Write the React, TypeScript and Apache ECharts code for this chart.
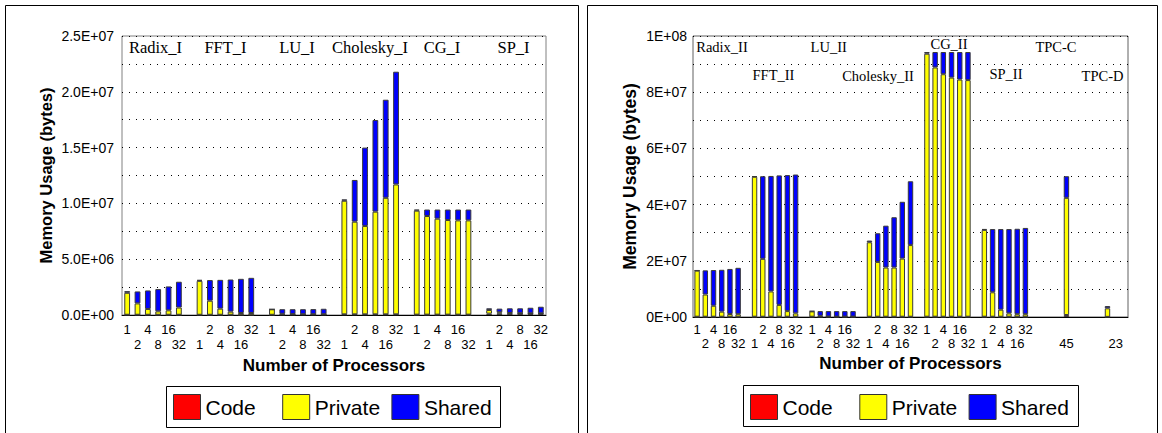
import React, { useEffect, useRef } from "react";
import * as echarts from "echarts";

// ---------- data (values in millions of bytes) ----------
const procs = ["1", "2", "4", "8", "16", "32"];

const leftGroups = ["Radix_I", "FFT_I", "LU_I", "Cholesky_I", "CG_I", "SP_I"];
const leftCode = [
  [0.02, 0.02, 0.02, 0.02, 0.02, 0.02],
  [0.02, 0.02, 0.02, 0.02, 0.02, 0.02],
  [0.02, 0.05, 0.05, 0.05, 0.05, 0.05],
  [0.06, 0.06, 0.06, 0.06, 0.06, 0.06],
  [0.03, 0.03, 0.03, 0.03, 0.03, 0.03],
  [0.12, 0.12, 0.12, 0.12, 0.12, 0.12],
];
const leftPrivate = [
  [1.97, 1.02, 0.52, 0.31, 0.4, 0.65],
  [3.04, 1.26, 0.55, 0.28, 0.16, 0.16],
  [0.49, 0.06, 0.03, 0.02, 0.02, 0.02],
  [10.18, 8.3, 7.92, 9.2, 10.44, 11.64],
  [9.32, 8.84, 8.6, 8.48, 8.45, 8.45],
  [0.33, 0.12, 0.06, 0.04, 0.03, 0.03],
];
const leftShared = [
  [0.15, 1.07, 1.66, 1.99, 2.14, 2.31],
  [0.09, 1.85, 2.58, 2.88, 3.06, 3.15],
  [0.0, 0.41, 0.44, 0.45, 0.46, 0.49],
  [0.12, 3.74, 7.02, 8.21, 8.79, 10.1],
  [0.1, 0.58, 0.82, 0.94, 0.97, 0.97],
  [0.15, 0.33, 0.42, 0.44, 0.5, 0.59],
];

const rightGroups = ["Radix_II", "FFT_II", "LU_II", "Cholesky_II", "CG_II", "SP_II"];
const rightCode = [
  [0.1, 0.1, 0.1, 0.1, 0.1, 0.1],
  [0.1, 0.1, 0.1, 0.1, 0.1, 0.1],
  [0.1, 0.1, 0.1, 0.1, 0.1, 0.1],
  [0.1, 0.1, 0.1, 0.1, 0.1, 0.1],
  [0.1, 0.1, 0.1, 0.1, 0.1, 0.1],
  [0.1, 0.1, 0.1, 0.1, 0.1, 0.1],
];
const rightPrivate = [
  [16.4, 7.9, 3.9, 1.8, 0.96, 0.9],
  [49.8, 20.6, 9.0, 4.2, 2.0, 1.2],
  [1.9, 0.3, 0.1, 0.05, 0.05, 0.05],
  [26.5, 19.5, 17.5, 17.5, 20.7, 25.5],
  [93.6, 88.7, 86.3, 85.1, 84.4, 84.2],
  [30.9, 8.7, 2.5, 1.2, 0.9, 0.9],
];
const rightShared = [
  [0.1, 8.6, 12.7, 14.9, 16.04, 16.5],
  [0.2, 29.4, 41.1, 46.1, 48.4, 49.4],
  [0.1, 1.7, 1.9, 1.95, 1.95, 1.95],
  [0.6, 10.2, 14.9, 17.9, 20.2, 22.7],
  [0.6, 5.5, 7.9, 9.1, 9.8, 10.0],
  [0.3, 22.5, 28.7, 30.0, 30.4, 30.7],
];

// trailing slots after SP_II: TPC-C and TPC-D
const tpcGroups = ["TPC-C", "TPC-D"];
const tailTickLabels = ["", "", "", "", "45", "", "", "", "", "", "23", ""];
const tailCode = [null, null, null, null, 0.7, null, null, null, null, 0.05, null, null];
const tailPrivate = [null, null, null, null, 41.7, null, null, null, null, 3.05, null, null];
const tailShared = [null, null, null, null, 7.7, null, null, null, null, 0.8, null, null];

const leftTicks = [0, 5e6, 1e7, 1.5e7, 2e7, 2.5e7];
const rightTicks = [0, 2e7, 4e7, 6e7, 8e7, 1e8];
const legendNames = ["Code", "Private", "Shared"];

// ---------- helpers ----------
function flatten(groups: number[][]): (number | null)[] {
  const out: (number | null)[] = [];
  groups.forEach((g, gi) => {
    if (gi > 0) out.push(null);
    g.forEach((v) => out.push(v * 1e6));
  });
  return out;
}
function flatLabels(n: number): string[] {
  const out: string[] = [];
  for (let gi = 0; gi < n; gi++) {
    if (gi > 0) out.push("");
    procs.forEach((p) => out.push(p));
  }
  return out;
}
function sci(v: number, digits: number): string {
  if (v === 0) return (0).toFixed(digits) + "E+00";
  const e = Math.floor(Math.log10(v) + 1e-9);
  const m = v / Math.pow(10, e);
  return m.toFixed(digits) + "E+" + (e < 10 ? "0" + e : String(e));
}

const leftLabels = flatLabels(leftGroups.length);
const rightLabels = flatLabels(rightGroups.length).concat(tailTickLabels);
const tailM = (a: (number | null)[]) => a.map((v) => (v == null ? null : v * 1e6));

const leftCodeData = flatten(leftCode);
const leftPrivData = flatten(leftPrivate);
const leftSharedData = flatten(leftShared);
const rightCodeData = flatten(rightCode).concat(tailM(tailCode));
const rightPrivData = flatten(rightPrivate).concat(tailM(tailPrivate));
const rightSharedData = flatten(rightShared).concat(tailM(tailShared));

const FONT = "'Liberation Sans', Arial, sans-serif";
const SERIF = "'Liberation Serif', 'Times New Roman', serif";
const colors: Record<string, string> = { Code: "#ff0000", Private: "#ffff00", Shared: "#0000ff" };

export default function App() {
  const ref = useRef<HTMLDivElement>(null);
  useEffect(() => {
    if (!ref.current) return;
    const chart = echarts.init(ref.current, undefined, { renderer: "svg" });

    const xAxisBase = (gi: number, labels: string[], margin: number, lh: number, gap: number) => ({
      type: "category",
      gridIndex: gi,
      data: labels.map((_, i) => String(i)),
      axisTick: { show: false },
      axisLine: { show: true, lineStyle: { color: "#000", width: 1 } },
      axisLabel: {
        interval: 0,
        margin,
        color: "#000",
        fontSize: 13,
        fontFamily: FONT,
        lineHeight: lh,
        formatter: (v: string) => {
          const i = Number(v);
          return i % 2 === 1 ? "\n" + labels[i] : labels[i];
        },
      },
      name: "Number of Processors",
      nameLocation: "middle",
      nameGap: gap,
      nameTextStyle: { fontSize: 17, fontWeight: "bold", fontFamily: FONT, color: "#000" },
    });
    const yAxisBase = (gi: number, max: number, interval: number, ticks: number[], digits: number, gap: number, nameSize: number, margin: number) => ({
      type: "value",
      gridIndex: gi,
      min: 0,
      max,
      interval,
      axisLine: { show: false },
      axisTick: { show: false },
      splitLine: { show: true, lineStyle: { color: "#000", type: [1, 6], width: 1 } },
      axisLabel: {
        margin,
        color: "#000",
        fontSize: 14,
        fontFamily: FONT,
        formatter: (v: number) => (ticks.some((t) => Math.abs(t - v) < 1) ? sci(v, digits) : ""),
      },
      name: "Memory Usage (bytes)",
      nameLocation: "middle",
      nameRotate: 90,
      nameGap: gap,
      nameTextStyle: { fontSize: nameSize, fontWeight: "bold", fontFamily: FONT, color: "#000" },
    });

    const mkSeries = (name: string, gi: number, data: (number | null)[], bw: string) => ({
      type: "bar",
      name,
      xAxisIndex: gi,
      yAxisIndex: gi,
      stack: "s" + gi,
      barWidth: bw,
      data,
      itemStyle: { color: colors[name], borderColor: "#3a3a3a", borderWidth: 1 },
    });

    // one legend component per item so that items sit on a fixed 109px pitch
    const legendItem = (name: string, left: number) => ({
      left,
      top: 394,
      orient: "horizontal",
      selectedMode: false,
      data: [name],
      icon: "rect",
      itemWidth: 27,
      itemHeight: 25,
      padding: 0,
      itemStyle: { borderColor: "#333", borderWidth: 1 },
      textStyle: { fontSize: 21, fontFamily: FONT, color: "#000" },
    });
    const legends = [
      ...legendNames.map((n, i) => legendItem(n, 173 + i * 109.2)),
      ...legendNames.map((n, i) => legendItem(n, 750 + i * 109.3)),
    ];

    const txt = (text: string, x: number, y: number, size: number) => ({
      type: "text",
      x,
      y,
      z: 100,
      style: { text, font: `${size}px ${SERIF}`, fill: "#000", align: "center", verticalAlign: "middle" },
    });
    const box = (x: number, y: number, w: number, h: number) => ({
      type: "rect",
      shape: { x, y, width: w, height: h },
      style: { fill: "none", stroke: "#000", lineWidth: 1 },
    });

    chart.setOption({
      animation: false,
      backgroundColor: "#fff",
      grid: [
        { left: 122, top: 36, width: 424, height: 279, show: true, borderColor: "#808080", borderWidth: 1 },
        { left: 693, top: 36, width: 435, height: 281, show: true, borderColor: "#606060", borderWidth: 1 },
      ],
      xAxis: [xAxisBase(0, leftLabels, 7, 15, 40), xAxisBase(1, rightLabels, 5, 14, 35)],
      yAxis: [
        yAxisBase(0, 2.5e7, 2.5e6, leftTicks, 1, 68, 16.5, 8),
        yAxisBase(1, 1e8, 1e7, rightTicks, 0, 54, 17.5, 6),
      ],
      legend: legends,
      series: [
        mkSeries("Code", 0, leftCodeData, "56%"),
        mkSeries("Private", 0, leftPrivData, "56%"),
        mkSeries("Shared", 0, leftSharedData, "56%"),
        mkSeries("Code", 1, rightCodeData, "66%"),
        mkSeries("Private", 1, rightPrivData, "66%"),
        mkSeries("Shared", 1, rightSharedData, "66%"),
      ],
      graphic: [
        box(5.5, 5.5, 573, 460),
        box(587.5, 5.5, 570, 460),
        box(166.5, 386.5, 334, 41),
        box(743.5, 385.5, 335, 41),
        txt(leftGroups[0], 155.5, 47, 16.5),
        txt(leftGroups[1], 225.5, 47, 16.5),
        txt(leftGroups[2], 297, 47, 16.5),
        txt(leftGroups[3], 370, 47, 16.5),
        txt(leftGroups[4], 442, 47, 16.5),
        txt(leftGroups[5], 513.5, 47, 16.5),
        txt(rightGroups[0], 722, 47, 14.5),
        txt(rightGroups[1], 773.5, 75, 14.5),
        txt(rightGroups[2], 828.7, 47, 14.5),
        txt(rightGroups[3], 878, 76, 14.5),
        txt(rightGroups[4], 949, 44, 14.5),
        txt(rightGroups[5], 1006, 74, 14.5),
        txt(tpcGroups[0], 1056, 47, 14.5),
        txt(tpcGroups[1], 1102.5, 76, 14.5),
      ],
    });
    return () => chart.dispose();
  }, []);
  return (
    <div
      ref={ref}
      style={{ position: "fixed", left: 0, top: 0, width: 1162, height: 433, background: "#fff" }}
    />
  );
}
